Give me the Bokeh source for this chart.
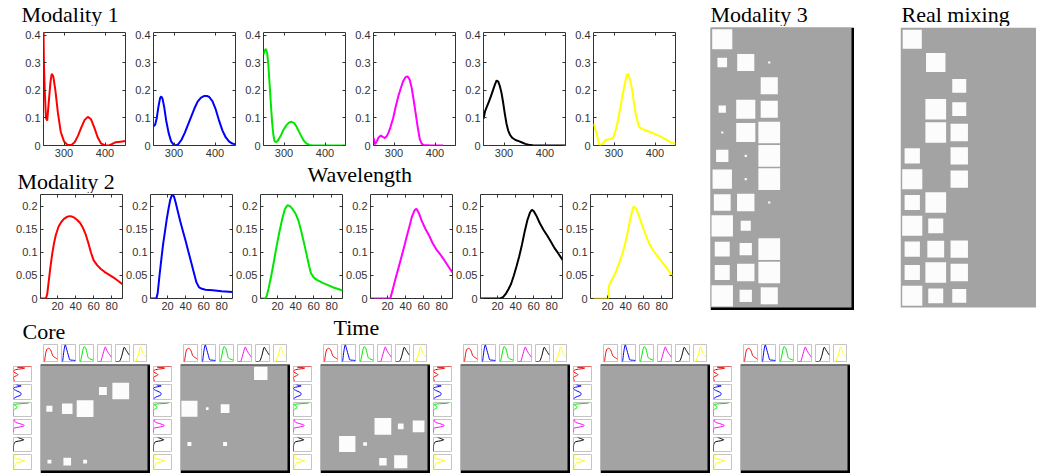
import math
from bokeh.plotting import figure
from bokeh.layouts import row, column
from bokeh.models import Range1d, FixedTicker, LinearAxis, CustomJSTickFormatter, Spacer
from bokeh.core.properties import value
from bokeh.embed import file_html
from bokeh.resources import INLINE

# ------------------------------------------------------------------ data
COLORS = ["#ff0000", "#0000ff", "#00e600", "#ff00ff", "#000000", "#ffff00"]

# Modality 1 (wavelength spectra)
wl_red = [250, 251, 253, 256, 259, 263, 267, 270, 274, 279, 285, 292, 300, 308, 318, 326, 334, 342, 350, 358, 366, 374, 382, 390, 400, 410, 418, 426, 438, 450]
m1_red = [0.42, 0.30, 0.20, 0.10, 0.09, 0.16, 0.23, 0.26, 0.25, 0.20, 0.12, 0.05, 0.015, 0.003, 0.002, 0.012, 0.035, 0.065, 0.092, 0.104, 0.095, 0.065, 0.03, 0.008, 0.0, 0.0, 0.006, 0.012, 0.014, 0.016]
wl_blue = [250, 254, 258, 262, 266, 269, 272, 276, 281, 287, 293, 299, 304, 310, 318, 326, 334, 342, 350, 358, 366, 374, 380, 386, 394, 402, 410, 418, 426, 434, 442, 450]
m1_blue = [0.07, 0.075, 0.1, 0.14, 0.172, 0.178, 0.17, 0.14, 0.09, 0.045, 0.015, 0.003, 0.0, 0.004, 0.02, 0.045, 0.075, 0.105, 0.135, 0.16, 0.174, 0.18, 0.18, 0.176, 0.16, 0.13, 0.09, 0.055, 0.03, 0.015, 0.007, 0.004]
wl_green = [250, 253, 256, 259, 262, 265, 268, 271, 274, 277, 281, 286, 292, 298, 305, 312, 318, 324, 330, 336, 342, 348, 355, 362, 370, 380, 400, 420, 450]
m1_green = [0.33, 0.345, 0.35, 0.335, 0.29, 0.22, 0.15, 0.085, 0.04, 0.015, 0.012, 0.02, 0.035, 0.055, 0.072, 0.083, 0.086, 0.082, 0.07, 0.052, 0.034, 0.018, 0.007, 0.002, 0.0, 0.0, 0.0, 0.0, 0.0]
wl_magenta = [250, 254, 258, 262, 268, 274, 278, 282, 286, 290, 294, 298, 304, 310, 316, 322, 328, 333, 338, 343, 348, 353, 358, 363, 368, 372, 390, 420]
m1_magenta = [0.028, 0.004, 0.015, 0.028, 0.036, 0.03, 0.027, 0.033, 0.045, 0.06, 0.08, 0.1, 0.14, 0.176, 0.205, 0.232, 0.248, 0.251, 0.24, 0.21, 0.165, 0.115, 0.065, 0.022, 0.006, 0.002, 0.0, 0.0]
wl_black = [250, 254, 258, 263, 268, 273, 278, 282, 286, 290, 294, 298, 302, 306, 310, 315, 320, 328, 336, 344, 352, 360, 370, 390, 450]
m1_black = [0.097, 0.125, 0.14, 0.158, 0.178, 0.2, 0.222, 0.236, 0.232, 0.215, 0.19, 0.155, 0.115, 0.08, 0.055, 0.038, 0.028, 0.02, 0.016, 0.011, 0.006, 0.003, 0.001, 0.0, 0.0]
wl_yellow = [250, 254, 258, 261, 264, 268, 272, 276, 280, 285, 290, 294, 298, 303, 308, 314, 320, 326, 331, 334, 338, 342, 346, 350, 355, 361, 365, 375, 389, 400, 413, 425, 438, 450]
m1_yellow = [0.079, 0.062, 0.042, 0.02, 0.004, 0.003, 0.006, 0.013, 0.02, 0.022, 0.024, 0.025, 0.028, 0.05, 0.079, 0.125, 0.176, 0.222, 0.255, 0.261, 0.245, 0.22, 0.185, 0.14, 0.1, 0.069, 0.063, 0.056, 0.049, 0.041, 0.033, 0.023, 0.012, 0.006]

# Modality 2 (time profiles)
t_red = [1, 4, 7, 8.5, 10, 12, 14, 16, 18, 21, 24, 27, 30, 33, 36, 39, 42, 45, 48, 51, 54, 57, 60, 64, 68, 72, 76, 80, 84, 88, 92]
m2_red = [0.0, 0.0, 0.0, 0.01, 0.035, 0.068, 0.097, 0.12, 0.138, 0.156, 0.166, 0.173, 0.177, 0.179, 0.178, 0.175, 0.17, 0.164, 0.154, 0.14, 0.121, 0.1, 0.083, 0.072, 0.064, 0.058, 0.053, 0.048, 0.043, 0.037, 0.031]
t_blue = [1, 4, 7.5, 9, 11, 13, 15, 17, 19, 21, 23, 25, 27, 29, 31, 34, 37, 40, 43, 46, 49, 52, 55, 58, 62, 70, 80, 92]
m2_blue = [0, 0, 0, 0.012, 0.05, 0.085, 0.118, 0.145, 0.172, 0.195, 0.215, 0.226, 0.222, 0.208, 0.192, 0.168, 0.146, 0.125, 0.102, 0.08, 0.057, 0.035, 0.024, 0.021, 0.019, 0.018, 0.016, 0.014]
t_green = [1, 4, 6.5, 8, 10, 13, 16, 19, 22, 25, 28, 31, 34, 37, 40, 43, 46, 49, 52, 55, 57, 60, 64, 70, 76, 82, 88, 92]
m2_green = [0, 0, 0, 0.006, 0.022, 0.05, 0.082, 0.115, 0.145, 0.172, 0.194, 0.203, 0.2, 0.193, 0.184, 0.17, 0.148, 0.123, 0.097, 0.07, 0.055, 0.046, 0.04, 0.034, 0.029, 0.024, 0.02, 0.017]
t_magenta = [1, 10, 20, 23, 26, 29, 32, 35, 38, 41, 44, 47, 50, 52, 55, 58, 62, 66, 70, 74, 78, 82, 86, 90, 92]
m2_magenta = [0, 0, 0, 0, 0.022, 0.045, 0.066, 0.088, 0.11, 0.133, 0.155, 0.178, 0.192, 0.195, 0.184, 0.168, 0.151, 0.137, 0.12, 0.107, 0.097, 0.086, 0.074, 0.062, 0.057]
t_black = [1, 10, 20, 23, 26, 29, 32, 35, 38, 41, 44, 47, 50, 53, 56, 58, 60, 63, 67, 71, 75, 79, 83, 87, 92]
m2_black = [0, 0, 0, 0, 0.003, 0.01, 0.02, 0.032, 0.05, 0.07, 0.092, 0.117, 0.145, 0.17, 0.187, 0.193, 0.19, 0.18, 0.163, 0.149, 0.137, 0.124, 0.11, 0.099, 0.084]
t_yellow = [1, 10, 20.5, 21.5, 24, 27, 30, 33, 36, 39, 42, 45, 48, 49, 52, 55, 58, 62, 66, 70, 74, 78, 82, 86, 90, 92]
m2_yellow = [0, 0, 0, 0.028, 0.038, 0.049, 0.062, 0.078, 0.095, 0.115, 0.142, 0.172, 0.196, 0.2, 0.194, 0.178, 0.161, 0.14, 0.12, 0.106, 0.095, 0.085, 0.075, 0.065, 0.054, 0.049]

M1_X = [wl_red, wl_blue, wl_green, wl_magenta, wl_black, wl_yellow]
M1_Y = [m1_red, m1_blue, m1_green, m1_magenta, m1_black, m1_yellow]
M2_X = [t_red, t_blue, t_green, t_magenta, t_black, t_yellow]
M2_Y = [m2_red, m2_blue, m2_green, m2_magenta, m2_black, m2_yellow]

WL_TICKS = [300, 400]
ABS_TICKS = [0, 0.1, 0.2, 0.3, 0.4]
TIME_TICKS = [20, 40, 60, 80]
CONC_TICKS = [0, 0.05, 0.1, 0.15, 0.2]

# Modality 3 and real mixing (12 x 6 Hinton weights)
MOD3 = [
    [0.83, 0, 0, 0, 0, 0],
    [0.19, 0.60, 0.01, 0, 0, 0],
    [0, 0, 0.60, 0, 0, 0],
    [0.11, 0.75, 0.60, 0, 0, 0],
    [0.01, 0.75, 0.97, 0, 0, 0],
    [0.31, 0.01, 0.97, 0, 0, 0],
    [0.77, 0.01, 0.97, 0, 0, 0],
    [0.58, 0.62, 0.01, 0, 0, 0],
    [0.94, 0.21, 0, 0, 0, 0],
    [0.46, 0.31, 0.97, 0, 0, 0],
    [0.46, 0.62, 0.97, 0, 0, 0],
    [0.94, 0.31, 0.60, 0, 0, 0],
]
REAL_MIXING = [
    [0.75, 0, 0, 0, 0, 0],
    [0, 0.77, 0, 0, 0, 0],
    [0, 0, 0.40, 0, 0, 0],
    [0, 0.88, 0.40, 0, 0, 0],
    [0, 0.88, 0.62, 0, 0, 0],
    [0.48, 0, 0.62, 0, 0, 0],
    [0.83, 0, 0.62, 0, 0, 0],
    [0.48, 0.88, 0, 0, 0, 0],
    [0.83, 0.46, 0, 0, 0, 0],
    [0.48, 0.58, 0.62, 0, 0, 0],
    [0.48, 0.88, 0.62, 0, 0, 0],
    [0.83, 0.46, 0.40, 0, 0, 0],
]

# Core slices (6 x 6 Hinton weights)
CORE_1 = [
    [0, 0, 0, 0, 0, 0],
    [0, 0, 0, 0.22, 1.0, 0],
    [0.13, 0.40, 1.0, 0, 0, 0],
    [0, 0, 0, 0, 0, 0],
    [0, 0, 0, 0, 0, 0],
    [0.055, 0.21, 0.055, 0, 0, 0],
]
CORE_2 = [
    [0, 0, 0, 0, 0.64, 0],
    [0, 0, 0, 0, 0, 0],
    [0.92, 0.025, 0.27, 0, 0, 0],
    [0, 0, 0, 0, 0, 0],
    [0.055, 0, 0.055, 0, 0, 0],
    [0, 0, 0, 0, 0, 0],
]
CORE_3 = [
    [0, 0, 0, 0, 0, 0],
    [0, 0, 0, 0, 0, 0],
    [0, 0, 0, 0, 0, 0],
    [0, 0, 0, 1.0, 0.116, 0.49],
    [0, 0.95, 0.05, 0, 0, 0],
    [0, 0, 0, 0.2, 0.62, 0],
]
CORE_4 = [[0, 0, 0, 0, 0, 0] for _ in range(6)]
CORE_5 = [[0, 0, 0, 0, 0, 0] for _ in range(6)]
CORE_6 = [[0, 0, 0, 0, 0, 0] for _ in range(6)]
CORES = [CORE_1, CORE_2, CORE_3, CORE_4, CORE_5, CORE_6]

# ------------------------------------------------------------------ style
FONT_SANS = "Liberation Sans"
FONT_SERIF = "Liberation Serif"
GRAY = "#a3a3a3"
WHITE = "#fcfcfc"
AXIS_COL = "#333333"


def base_fig(w, h, xr, yr, **kw):
    p = figure(width=w, height=h, x_range=xr, y_range=yr, output_backend="svg",
               toolbar_location=None, tools="", **kw)
    p.grid.visible = False
    return p


def text_strip(w, h, items):
    # items: (x from left, y of text centre from bottom, text)
    p = base_fig(w, h, Range1d(0, w), Range1d(0, h),
                 x_axis_location=None, y_axis_location=None, min_border=0)
    p.outline_line_color = None
    p.text(x=[i[0] for i in items], y=[i[1] for i in items], text=[i[2] for i in items],
           text_font=value(FONT_SERIF), text_font_size="22px", text_color="#000000",
           text_baseline="middle", text_align="left")
    return p


def style_axis(ax, ticks, labels):
    ax.ticker = FixedTicker(ticks=ticks)
    ax.major_tick_in = 3
    ax.major_tick_out = 0
    ax.minor_tick_line_color = None
    ax.axis_line_color = None
    ax.major_tick_line_color = AXIS_COL
    if labels:
        ax.formatter = CustomJSTickFormatter(code="return String(tick)")
        ax.major_label_text_font = FONT_SANS
        ax.major_label_text_font_size = "11px"
        ax.major_label_text_color = AXIS_COL
        ax.major_label_standoff = 3
    else:
        ax.formatter = CustomJSTickFormatter(code="return ''")
        ax.major_label_text_font_size = "1px"
        ax.major_label_standoff = 0


def curve_fig(xs, ys, color, xr, yr, xticks, yticks, height, b_top, b_bottom):
    p = base_fig(110, height, Range1d(*xr), Range1d(*yr),
                 min_border_left=27, min_border_right=1,
                 min_border_top=b_top, min_border_bottom=b_bottom)
    p.outline_line_color = AXIS_COL
    p.line(xs, ys, line_color=color, line_width=2)
    style_axis(p.xaxis[0], xticks, True)
    style_axis(p.yaxis[0], yticks, True)
    top = LinearAxis()
    style_axis(top, xticks, False)
    p.add_layout(top, "above")
    right = LinearAxis()
    style_axis(right, yticks, False)
    p.add_layout(right, "right")
    return p


def hinton(mat, cell_w, cell_h, vis_w, shadow, shadow_color, top_line):
    nr, nc = len(mat), len(mat[0])
    sx, sy = shadow / cell_w, shadow / cell_h
    W = int(round(vis_w + shadow))
    H = int(round(nr * cell_h + shadow))
    p = base_fig(W, H, Range1d(0, (vis_w + shadow) / cell_w), Range1d(-sy, nr),
                 x_axis_location=None, y_axis_location=None, min_border=0)
    p.outline_line_color = None
    if shadow_color:
        p.quad(left=[0], right=[nc + sx], bottom=[-sy], top=[nr],
               fill_color=shadow_color, line_color=None)
    p.quad(left=[0], right=[nc], bottom=[0], top=[nr], fill_color=GRAY, line_color=None)
    xs, ys, ss = [], [], []
    for r, vals in enumerate(mat):
        for c, v in enumerate(vals):
            if v > 0:
                xs.append(c + 0.5)
                ys.append(nr - r - 0.5)
                ss.append(0.94 * math.sqrt(v))
    if xs:
        p.rect(x=xs, y=ys, width=ss, height=ss, fill_color=WHITE, line_color=None)
    if top_line:
        p.segment(x0=[0], y0=[nr], x1=[nc + sx], y1=[nr], line_color="#3c3c3c", line_width=2)
    return p


def thumb(xs, ys, color, w, h, xr, yr, bl, br, bt, bb):
    p = base_fig(w, h, Range1d(*xr), Range1d(*yr), x_axis_location=None, y_axis_location=None,
                 min_border_left=bl, min_border_right=br, min_border_top=bt, min_border_bottom=bb)
    p.outline_line_color = "#c4c4c4"
    p.line(xs, ys, line_color=color, line_width=1)
    return p


def core_block(mat):
    widths = [18, 18, 18, 18, 18, 17]
    tops = [thumb(M2_X[k], M2_Y[k], COLORS[k], widths[k], 20, (1, 92), (0, 0.23), 3, 1, 1, 2)
            for k in range(6)]
    heights = [18, 18, 17, 18, 17, 18]
    lefts = [thumb(M1_Y[k], M1_X[k], COLORS[k], 22, heights[k], (0, 0.42), (450, 250), 3, 1, 2, 1)
             for k in range(6)]
    main = hinton(mat, 107 / 6, 106 / 6, 107, 3, "#000000", True)
    return column(row(Spacer(width=30, height=20), *tops),
                  Spacer(width=140, height=1),
                  row(column(*lefts), Spacer(width=8, height=109), main))


# ------------------------------------------------------------------ layout
strip1 = text_strip(700, 26, [(21, 12.4, "Modality 1")])
row1 = row(Spacer(width=16, height=135),
           *[curve_fig(M1_X[k], M1_Y[k], COLORS[k], (250, 450), (0, 0.41), WL_TICKS, ABS_TICKS, 135, 6, 16)
             for k in range(6)])
strip2 = text_strip(700, 32, [(307, 19.4, "Wavelength"), (17, 12.4, "Modality 2")])
row2 = row(Spacer(width=13, height=121),
           *[curve_fig(M2_X[k], M2_Y[k], COLORS[k], (1, 92), (0, 0.226), TIME_TICKS, CONC_TICKS, 121, 1, 16)
             for k in range(6)])
left_col = column(strip1, row1, strip2, row2)

mod3_col = column(text_strip(144, 26, [(0, 12.4, "Modality 3")]),
                  Spacer(width=144, height=1),
                  hinton(MOD3, 23.5, 280 / 12, 141, 3, "#000000", False))
real_col = column(text_strip(136, 26, [(1, 12.4, "Real mixing")]),
                  Spacer(width=136, height=1),
                  hinton(REAL_MIXING, 23.5, 280 / 12, 133, 3, None, False))

top_section = row(left_col, Spacer(width=10, height=10), mod3_col,
                  Spacer(width=46, height=10), real_col)
strip3 = text_strip(700, 29, [(333, 16.4, "Time"), (22, 12.4, "Core")])
core_row = row(Spacer(width=10, height=10), *[core_block(m) for m in CORES])

layout = column(top_section, strip3, core_row)

open("out.html", "w").write(file_html(layout, INLINE))
